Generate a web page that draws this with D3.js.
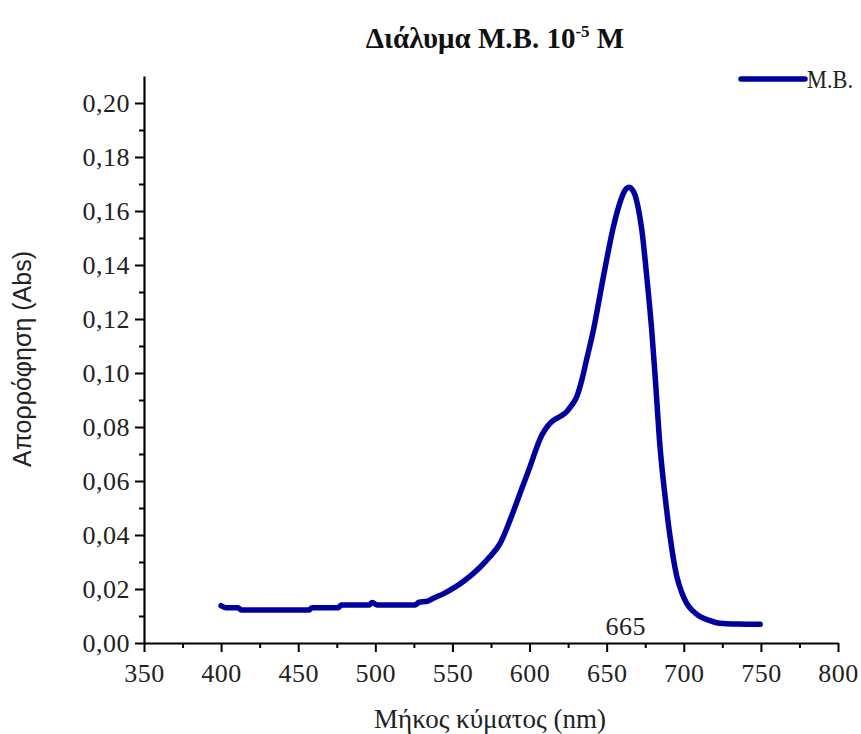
<!DOCTYPE html>
<html>
<head>
<meta charset="utf-8">
<script src="https://cdn.jsdelivr.net/npm/d3@7"></script>
<style>
  body { margin: 0; background: #fff; }
  svg { display: block; }
  .tick text { font-family: "Liberation Serif", "DejaVu Serif", serif; font-size: 26px; fill: #222; letter-spacing: 0.5px; }
</style>
</head>
<body>
<div id="chart"></div>
<script>
// Absorption spectrum of M.B. solution
const wavelength = [400, 403, 411, 413, 457, 459, 476, 478, 496, 498, 501, 526, 528, 534, 537.6,
  544, 550.6, 557, 563.6, 569, 574.4, 580.9, 587.4, 593.8, 600.3, 604.7, 608, 611.1, 614, 617.6,
  621, 624.1, 627, 630.6, 633.9, 637, 641.4, 647.9, 654.4, 658, 660.8, 662.8, 664.7, 666.5, 668.4,
  670.5, 672.8, 676, 679.2, 681.4, 684.6, 687.9, 691.1, 695.5, 698.5, 701.9, 706, 710.6, 716,
  723.5, 735, 749.5];
const absorbance = [0.0138, 0.0131, 0.0131, 0.0122, 0.0122, 0.0131, 0.0131, 0.0141, 0.0141, 0.0150,
  0.0141, 0.0141, 0.0150, 0.0155, 0.0166, 0.0182, 0.0203, 0.0228, 0.0258, 0.0287, 0.0320, 0.0369,
  0.0456, 0.0554, 0.0653, 0.0725, 0.0770, 0.0799, 0.0818, 0.0832, 0.0843, 0.0857, 0.0878, 0.0912,
  0.0974, 0.1050, 0.1159, 0.1357, 0.1542, 0.1620, 0.1665, 0.1683, 0.1688, 0.1680, 0.1659, 0.1610,
  0.1530, 0.1357, 0.1159, 0.0990, 0.0727, 0.0542, 0.0394, 0.0246, 0.0190, 0.0147, 0.0118, 0.0098,
  0.0085, 0.0073, 0.0070, 0.0069];

const xTicks = [350, 400, 450, 500, 550, 600, 650, 700, 750, 800];
const yTicks = [0, 0.02, 0.04, 0.06, 0.08, 0.10, 0.12, 0.14, 0.16, 0.18, 0.20];
const peakLabel = 665;

const width = 861, height = 734;
const margin = { top: 76, right: 23, bottom: 91, left: 144 };
const lineColor = '#00009e';
const serif = '"Liberation Serif", "DejaVu Serif", serif';

const svg = d3.select('#chart').append('svg')
    .attr('width', width)
    .attr('height', height);

const x = d3.scaleLinear().domain([350, 800]).range([margin.left, width - margin.right]);
const y = d3.scaleLinear().domain([0, 0.21]).range([height - margin.bottom, margin.top]);

const commaFmt = d => d3.format('.2f')(d).replace('.', ',');

// minor ticks first, then major ticks on top
svg.append('g')
    .attr('transform', `translate(0,${y(0)})`)
    .call(d3.axisBottom(x).tickValues(d3.range(375, 800, 50)).tickSize(5).tickFormat(''))
    .call(g => g.select('.domain').remove())
    .call(g => g.selectAll('line').attr('stroke-width', 2));

svg.append('g')
    .attr('transform', `translate(${x(350)},0)`)
    .call(d3.axisLeft(y).tickValues(d3.range(0.01, 0.21, 0.02)).tickSize(5).tickFormat(''))
    .call(g => g.select('.domain').remove())
    .call(g => g.selectAll('line').attr('stroke-width', 2));

svg.append('g')
    .attr('transform', `translate(0,${y(0)})`)
    .call(d3.axisBottom(x).tickValues(xTicks).tickSize(9).tickSizeOuter(0).tickPadding(12))
    .call(g => g.select('.domain').attr('stroke-width', 2.2))
    .call(g => g.selectAll('line').attr('stroke-width', 2));

svg.append('g')
    .attr('transform', `translate(${x(350)},0)`)
    .call(d3.axisLeft(y).tickValues(yTicks).tickFormat(commaFmt).tickSize(9).tickSizeOuter(0).tickPadding(5))
    .call(g => g.select('.domain').attr('stroke-width', 2.2))
    .call(g => g.selectAll('line').attr('stroke-width', 2))
    .call(g => g.selectAll('text').attr('dy', '0.33em'));

// spectrum
const line = d3.line()
    .x((d, i) => x(wavelength[i]))
    .y(d => y(d))
    .curve(d3.curveMonotoneX);

svg.append('path')
    .datum(absorbance)
    .attr('fill', 'none')
    .attr('stroke', lineColor)
    .attr('stroke-width', 5.5)
    .attr('stroke-linecap', 'round')
    .attr('stroke-linejoin', 'round')
    .attr('d', line);

// peak annotation
svg.append('text')
    .attr('x', x(peakLabel) - 4)
    .attr('y', y(0) - 8)
    .attr('text-anchor', 'middle')
    .style('font-family', serif)
    .style('font-size', '26px')
    .style('letter-spacing', '0.5px')
    .attr('fill', '#222')
    .text(peakLabel);

// title
const title = svg.append('text')
    .attr('x', 495)
    .attr('y', 48)
    .attr('text-anchor', 'middle')
    .style('font-family', serif)
    .style('font-size', '29px')
    .style('font-weight', 'bold')
    .attr('fill', '#111');
title.append('tspan').text('Διάλυμα M.B. 10');
title.append('tspan').attr('dy', -11).style('font-size', '17px').text('-5');
title.append('tspan').attr('dy', 11).text(' M');

// axis titles
svg.append('text')
    .attr('x', 490)
    .attr('y', 728)
    .attr('text-anchor', 'middle')
    .style('font-family', serif)
    .style('font-size', '27px')
    .attr('fill', '#222')
    .text('Μήκος κύματος (nm)');

svg.append('text')
    .attr('transform', `translate(31,359) rotate(-90)`)
    .attr('text-anchor', 'middle')
    .style('font-family', '"Liberation Sans", "Open Sans", sans-serif')
    .style('font-size', '25px')
    .attr('fill', '#222')
    .text('Απορρόφηση (Abs)');

// legend
svg.append('line')
    .attr('x1', 741).attr('x2', 805)
    .attr('y1', 79).attr('y2', 79)
    .attr('stroke', lineColor)
    .attr('stroke-width', 5.5)
    .attr('stroke-linecap', 'round');

svg.append('text')
    .attr('x', 807)
    .attr('y', 88)
    .attr('textLength', 46)
    .attr('lengthAdjust', 'spacingAndGlyphs')
    .style('font-family', serif)
    .style('font-size', '26px')
    .attr('fill', '#222')
    .text('M.B.');
</script>
</body>
</html>
